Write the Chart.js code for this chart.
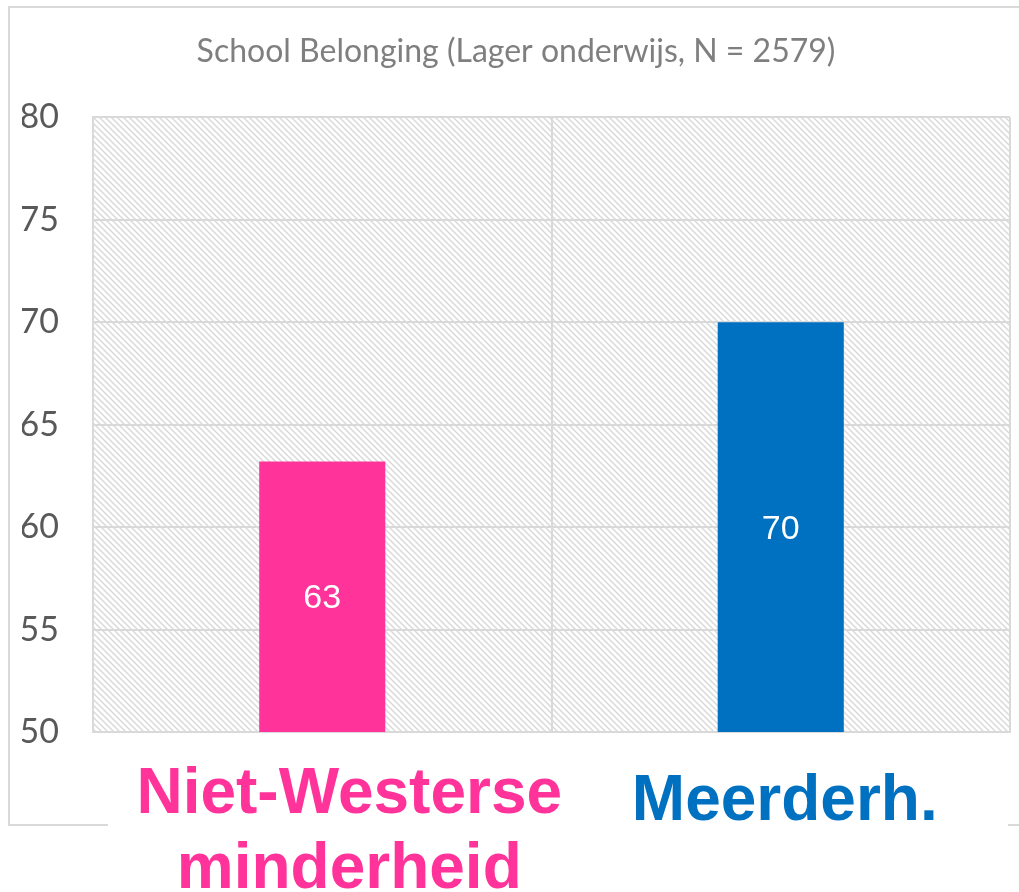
<!DOCTYPE html>
<html>
<head>
<meta charset="utf-8">
<script src="https://cdn.jsdelivr.net/npm/chart.js@4/dist/chart.umd.min.js"></script>
<style>body{margin:0;background:#fff}</style>
</head>
<body>
<canvas id="chart" width="1019" height="892"></canvas>
<script>
const categories = [['Niet-Westerse', 'minderheid'], ['Meerderh.']];
const scores = [63.2, 70.0];
const scoreLabels = ['63', '70'];
const barColors = ['#ff3399', '#0070c0'];
const yTicks = [50, 55, 60, 65, 70, 75, 80];
const titleText = 'School Belonging (Lager onderwijs, N = 2579)';

// diagonal hatch used behind the plot
function makeHatch(ctx) {
  const c = document.createElement('canvas');
  c.width = 6; c.height = 6;
  const g = c.getContext('2d');
  g.fillStyle = '#fff';
  g.fillRect(0, 0, 6, 6);
  g.strokeStyle = '#d9d9d9';
  g.lineWidth = 1.5;
  g.beginPath();
  g.moveTo(-1, -1); g.lineTo(7, 7);
  g.moveTo(-1, 5); g.lineTo(1, 7);
  g.moveTo(5, -1); g.lineTo(7, 1);
  g.stroke();
  return ctx.createPattern(c, 'repeat');
}

const background = {
  id: 'background',
  beforeDraw(chart) {
    const {ctx, chartArea} = chart;
    ctx.save();
    ctx.strokeStyle = '#d9d9d9';
    ctx.lineWidth = 2;
    ctx.strokeRect(9, 7, 1030, 818);
    ctx.fillStyle = makeHatch(ctx);
    ctx.fillRect(chartArea.left, chartArea.top, chartArea.right - chartArea.left, chartArea.bottom - chartArea.top);
    ctx.restore();
  }
};

// value in the middle of each bar + big coloured category names under the plot
const labelsPlugin = {
  id: 'labelsPlugin',
  afterDraw(chart) {
    const {ctx, chartArea, scales} = chart;
    const yScale = scales.y;
    ctx.save();
    ctx.fillStyle = '#fff';
    ctx.font = '34px "Liberation Sans", Arial, sans-serif';
    ctx.textAlign = 'center';
    ctx.textBaseline = 'middle';
    scores.forEach((v, i) => {
      const x = scales.x.getPixelForValue(i);
      const yMid = (yScale.getPixelForValue(v) + yScale.getPixelForValue(yScale.min)) / 2;
      ctx.fillText(scoreLabels[i], x, yMid + 2);
    });

    const shift = [27, 4];
    const firstBase = [81, 88];
    ctx.fillStyle = '#fff';
    ctx.fillRect(108, 818, 900, 14);
    ctx.font = 'bold 64px "Liberation Sans", Arial, sans-serif';
    ctx.textBaseline = 'alphabetic';
    categories.forEach((lines, i) => {
      const x = scales.x.getPixelForValue(i) + shift[i];
      ctx.fillStyle = barColors[i];
      lines.forEach((line, j) => {
        ctx.fillText(line, x, chartArea.bottom + firstBase[i] + j * 75);
      });
    });
    ctx.restore();
  }
};

new Chart(document.getElementById('chart'), {
  type: 'bar',
  data: {
    labels: categories.map(l => l.join(' ')),
    datasets: [{
      data: scores,
      backgroundColor: barColors,
      barPercentage: 0.275,
      categoryPercentage: 1
    }]
  },
  options: {
    responsive: false,
    animation: false,
    layout: {padding: {left: 22, right: 9, top: 0, bottom: 160}},
    plugins: {
      legend: {display: false},
      tooltip: {enabled: false},
      title: {
        display: true,
        text: titleText,
        color: '#7f7f7f',
        font: {family: 'Lato', size: 32, weight: 'normal'},
        padding: {top: 32, bottom: 47}
      }
    },
    scales: {
      x: {
        ticks: {display: false},
        grid: {offset: true, color: '#d9d9d9', lineWidth: 2, drawTicks: false},
        border: {color: '#d9d9d9', width: 2}
      },
      y: {
        min: yTicks[0],
        max: yTicks[yTicks.length - 1],
        afterBuildTicks: s => { s.ticks = yTicks.map(v => ({value: v})); },
        afterFit: s => { s.width = 71; },
        ticks: {color: '#595959', font: {family: 'Lato', size: 34}, padding: 34},
        grid: {color: '#d9d9d9', lineWidth: 2, drawTicks: false},
        border: {color: '#d9d9d9', width: 2}
      }
    }
  },
  plugins: [background, labelsPlugin]
});
</script>
</body>
</html>
